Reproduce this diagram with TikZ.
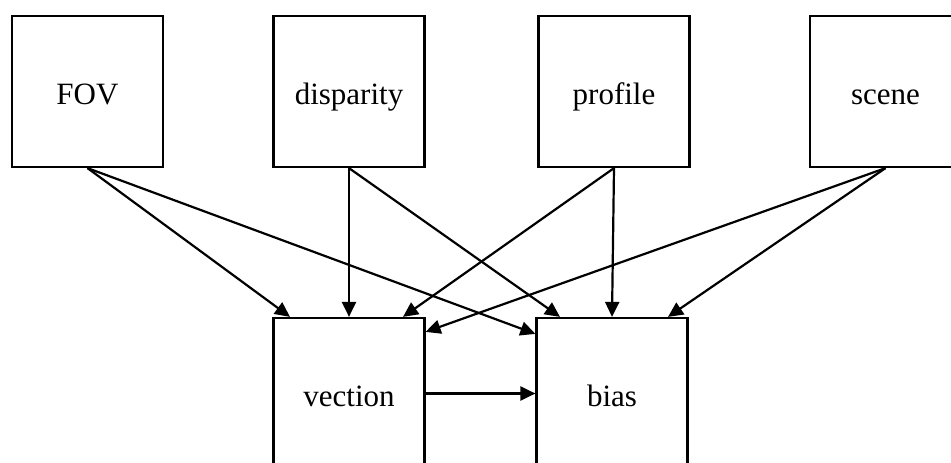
\documentclass[tikz,border=0pt]{standalone}
\usepackage{fontspec}
\setmainfont{Liberation Serif}
\usetikzlibrary{calc,arrows.meta}
\tikzset{
  box/.style={draw, rectangle, line width=2.2pt, minimum width=151pt, minimum height=151pt, inner sep=0pt, text height=28pt, text depth=3pt, font=\fontsize{31}{36}\selectfont},
  conn/.style={line width=2.2pt, -{Triangle[length=15pt,width=14pt]}}
}
\begin{document}
\begin{tikzpicture}[x=1pt,y=-1pt]
\useasboundingbox (0,0) rectangle (951,463);
\clip (0,0) rectangle (951,463);
\node[box] (fov) at (87.5,91.5) {FOV};
\node[box] (disp) at (349,91.5) {disparity};
\node[box] (prof) at (614,91.5) {profile};
\node[box] (scene) at (885.5,91.5) {scene};
\node[box] (vec) at (349,393.5) {vection};
\node[box] (bias) at (612,393.5) {bias};
\coordinate (t1) at ($(vec.north)+(-59,0)$);
\coordinate (t2) at ($(bias.north west)+(0,17)$);
\coordinate (t3) at ($(bias.north)+(-52,0)$);
\coordinate (t4) at ($(vec.north)+(54,0)$);
\coordinate (t5) at ($(vec.north east)+(0,15)$);
\coordinate (t6) at ($(bias.north)+(56,0)$);
\draw[conn] (fov.south) -- (t1);
\draw[conn] (fov.south) -- (t2);
\draw[conn] (disp.south) -- (vec.north);
\draw[conn] (disp.south) -- (t3);
\draw[conn] (prof.south) -- (t4);
\draw[conn] (prof.south) -- (bias.north);
\draw[conn] (scene.south) -- (t5);
\draw[conn] (scene.south) -- (t6);
\draw[conn] (vec.east) -- (bias.west);
\end{tikzpicture}
\end{document}
